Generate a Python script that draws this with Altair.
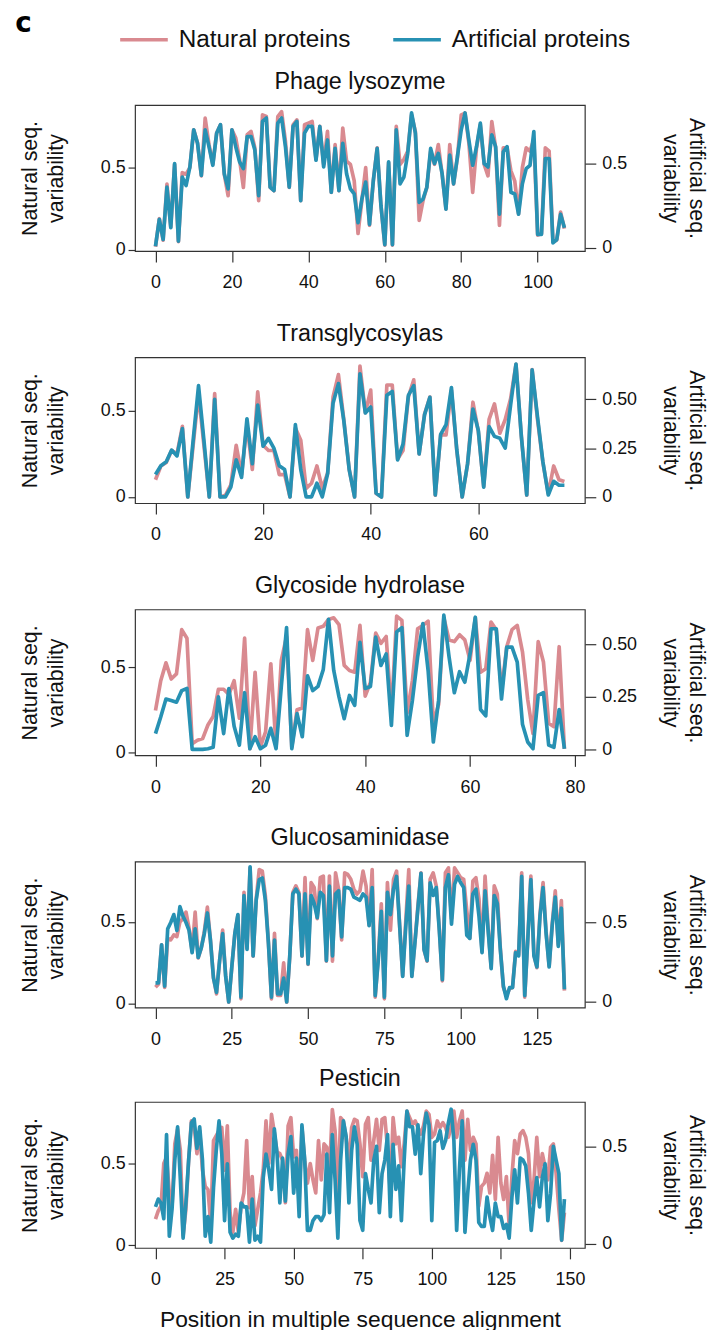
import altair as alt
import pandas as pd

FONT = "Liberation Sans"
PINK = "#D98A90"
BLUE = "#2791B3"
SERIES = ["Natural proteins", "Artificial proteins"]

titles = ["Phage lysozyme", "Transglycosylas", "Glycoside hydrolase",
          "Glucosaminidase", "Pesticin"]

nat1 = [0.02,0.19,0.06,0.40,0.14,0.52,0.05,0.47,0.46,0.50,
        0.73,0.65,0.45,0.80,0.64,0.52,0.71,0.76,0.46,0.33,
        0.73,0.68,0.55,0.38,0.70,0.72,0.62,0.30,0.82,0.81,
        0.38,0.36,0.81,0.84,0.66,0.38,0.76,0.79,0.30,0.76,
        0.77,0.78,0.55,0.75,0.52,0.72,0.35,0.64,0.36,0.74,
        0.54,0.52,0.42,0.10,0.30,0.50,0.15,0.42,0.62,0.27,
        0.03,0.53,0.03,0.75,0.52,0.55,0.60,0.82,0.72,0.18,
        0.30,0.38,0.60,0.52,0.64,0.46,0.25,0.64,0.40,0.56,
        0.82,0.83,0.65,0.35,0.62,0.76,0.52,0.45,0.78,0.62,
        0.15,0.62,0.62,0.48,0.42,0.22,0.50,0.62,0.60,0.67,
        0.09,0.10,0.62,0.60,0.05,0.06,0.23,0.13]
art1 = [0.01,0.17,0.05,0.36,0.12,0.50,0.04,0.42,0.37,0.48,
        0.70,0.62,0.43,0.70,0.60,0.49,0.68,0.73,0.44,0.35,
        0.70,0.60,0.51,0.47,0.66,0.66,0.58,0.31,0.75,0.77,
        0.36,0.34,0.74,0.77,0.60,0.36,0.72,0.75,0.28,0.68,
        0.72,0.72,0.52,0.72,0.48,0.64,0.33,0.59,0.34,0.62,
        0.44,0.35,0.32,0.15,0.29,0.39,0.14,0.40,0.59,0.25,
        0.02,0.51,0.02,0.70,0.38,0.42,0.56,0.80,0.68,0.27,
        0.29,0.36,0.59,0.50,0.56,0.44,0.23,0.55,0.38,0.54,
        0.70,0.80,0.64,0.49,0.60,0.74,0.50,0.48,0.67,0.60,
        0.20,0.57,0.60,0.33,0.32,0.20,0.38,0.47,0.49,0.69,
        0.08,0.08,0.53,0.53,0.03,0.05,0.20,0.12]

nat2 = [0.10,0.18,0.20,0.27,0.25,0.41,0.00,0.30,0.60,0.30,
        0.00,0.60,0.00,0.01,0.07,0.30,0.13,0.42,0.16,0.61,
        0.30,0.27,0.27,0.13,0.13,0.00,0.40,0.33,0.05,0.08,
        0.18,0.05,0.14,0.58,0.71,0.45,0.16,0.00,0.76,0.49,
        0.62,0.02,0.00,0.65,0.65,0.22,0.27,0.58,0.68,0.25,
        0.48,0.58,0.01,0.36,0.36,0.62,0.27,0.00,0.19,0.55,
        0.38,0.06,0.45,0.54,0.37,0.45,0.57,0.77,0.35,0.01,
        0.74,0.45,0.20,0.02,0.18,0.10,0.09]
art2 = [0.115,0.16,0.18,0.24,0.21,0.35,0.00,0.29,0.57,0.29,
        0.00,0.50,0.00,0.00,0.05,0.19,0.10,0.40,0.17,0.47,
        0.26,0.30,0.25,0.16,0.14,0.00,0.37,0.14,0.00,0.00,
        0.07,0.00,0.12,0.48,0.58,0.39,0.14,0.00,0.63,0.43,
        0.46,0.02,0.00,0.52,0.54,0.19,0.27,0.52,0.57,0.22,
        0.42,0.51,0.01,0.32,0.37,0.56,0.24,0.00,0.17,0.45,
        0.34,0.05,0.36,0.31,0.30,0.25,0.47,0.68,0.31,0.01,
        0.65,0.41,0.18,0.01,0.08,0.06,0.06]

nat3 = [0.245,0.42,0.525,0.43,0.46,0.72,0.67,0.05,0.07,0.08,
        0.16,0.21,0.37,0.37,0.34,0.42,0.20,0.67,0.02,0.47,
        0.03,0.12,0.52,0.03,0.54,0.68,0.03,0.25,0.26,0.72,
        0.54,0.73,0.74,0.78,0.79,0.75,0.51,0.48,0.47,0.745,
        0.33,0.41,0.70,0.64,0.68,0.23,0.80,0.775,0.23,0.42,
        0.725,0.745,0.77,0.17,0.28,0.79,0.66,0.65,0.69,0.66,
        0.54,0.79,0.47,0.49,0.765,0.72,0.36,0.62,0.72,0.745,
        0.59,0.31,0.11,0.65,0.53,0.17,0.15,0.62,0.02]
art3 = [0.075,0.154,0.24,0.233,0.225,0.28,0.29,0.00,0.00,0.00,
        0.003,0.01,0.25,0.075,0.29,0.11,0.02,0.27,0.003,0.06,
        0.003,0.02,0.10,0.003,0.30,0.58,0.003,0.17,0.06,0.35,
        0.28,0.30,0.38,0.62,0.376,0.25,0.146,0.257,0.21,0.51,
        0.29,0.30,0.535,0.40,0.455,0.114,0.56,0.58,0.067,0.233,
        0.44,0.60,0.376,0.035,0.233,0.64,0.44,0.27,0.37,0.32,
        0.455,0.63,0.19,0.16,0.575,0.575,0.24,0.487,0.487,0.416,
        0.12,0.035,0.003,0.257,0.27,0.02,0.01,0.19,0.003]

nat4 = [0.10,0.12,0.36,0.10,0.40,0.39,0.42,0.41,0.50,0.52,
        0.56,0.46,0.32,0.56,0.28,0.34,0.44,0.59,0.39,0.16,
        0.06,0.26,0.45,0.17,0.01,0.22,0.43,0.54,0.03,0.68,
        0.34,0.83,0.29,0.64,0.82,0.81,0.66,0.38,0.03,0.43,
        0.05,0.05,0.25,0.01,0.29,0.68,0.72,0.68,0.29,0.77,
        0.24,0.74,0.71,0.52,0.77,0.78,0.26,0.78,0.26,0.80,
        0.70,0.39,0.80,0.79,0.76,0.70,0.67,0.69,0.81,0.72,
        0.48,0.82,0.04,0.28,0.61,0.03,0.74,0.45,0.76,0.81,
        0.48,0.17,0.50,0.82,0.17,0.37,0.60,0.80,0.33,0.26,
        0.76,0.80,0.72,0.46,0.14,0.80,0.83,0.52,0.83,0.80,
        0.77,0.76,0.57,0.40,0.75,0.77,0.64,0.32,0.78,0.46,
        0.22,0.72,0.67,0.34,0.10,0.05,0.09,0.10,0.32,0.30,
        0.80,0.04,0.40,0.78,0.30,0.22,0.55,0.74,0.44,0.23,
        0.49,0.69,0.36,0.63,0.08]
art4 = [0.12,0.12,0.36,0.10,0.46,0.50,0.55,0.45,0.60,0.54,
        0.50,0.45,0.31,0.46,0.28,0.34,0.43,0.56,0.39,0.15,
        0.06,0.26,0.43,0.16,0.00,0.22,0.43,0.55,0.03,0.67,
        0.33,0.85,0.29,0.64,0.77,0.78,0.64,0.37,0.03,0.39,
        0.05,0.05,0.15,0.00,0.29,0.68,0.71,0.68,0.29,0.68,
        0.24,0.67,0.62,0.53,0.69,0.67,0.26,0.73,0.29,0.68,
        0.70,0.41,0.72,0.72,0.71,0.66,0.65,0.64,0.68,0.66,
        0.48,0.72,0.04,0.26,0.57,0.03,0.69,0.55,0.71,0.79,
        0.48,0.16,0.47,0.73,0.16,0.37,0.59,0.81,0.33,0.26,
        0.75,0.67,0.72,0.45,0.14,0.72,0.80,0.49,0.74,0.79,
        0.75,0.72,0.42,0.40,0.68,0.71,0.54,0.31,0.70,0.45,
        0.21,0.67,0.62,0.33,0.10,0.02,0.09,0.09,0.31,0.29,
        0.79,0.04,0.39,0.77,0.29,0.22,0.54,0.72,0.43,0.22,
        0.48,0.66,0.35,0.59,0.08]

nat5 = [0.16,0.21,0.24,0.50,0.54,0.32,0.24,0.62,0.71,0.58,
        0.06,0.22,0.52,0.76,0.73,0.56,0.70,0.46,0.36,0.34,
        0.13,0.64,0.67,0.70,0.72,0.46,0.73,0.20,0.08,0.22,
        0.08,0.24,0.32,0.64,0.23,0.42,0.12,0.22,0.32,0.46,
        0.76,0.50,0.80,0.69,0.57,0.56,0.52,0.26,0.73,0.78,
        0.54,0.58,0.28,0.72,0.52,0.38,0.50,0.40,0.32,0.64,
        0.40,0.62,0.60,0.46,0.83,0.70,0.30,0.78,0.76,0.66,
        0.50,0.72,0.77,0.76,0.62,0.42,0.74,0.78,0.52,0.64,
        0.77,0.58,0.77,0.78,0.59,0.32,0.78,0.62,0.66,0.48,
        0.62,0.82,0.78,0.74,0.76,0.72,0.68,0.73,0.82,0.80,
        0.66,0.68,0.76,0.72,0.75,0.72,0.66,0.72,0.82,0.66,
        0.76,0.82,0.52,0.77,0.58,0.66,0.62,0.24,0.36,0.38,
        0.44,0.32,0.55,0.28,0.66,0.38,0.28,0.42,0.12,0.42,
        0.64,0.56,0.68,0.70,0.66,0.56,0.26,0.40,0.66,0.42,
        0.56,0.48,0.40,0.60,0.62,0.44,0.22,0.03,0.20]
art5 = [0.19,0.23,0.21,0.13,0.56,0.04,0.18,0.43,0.60,0.33,
        0.03,0.21,0.43,0.62,0.64,0.49,0.60,0.43,0.04,0.14,
        0.01,0.29,0.48,0.63,0.46,0.12,0.41,0.06,0.03,0.05,
        0.04,0.21,0.19,0.19,0.01,0.23,0.02,0.04,0.01,0.34,
        0.46,0.38,0.28,0.59,0.46,0.21,0.44,0.22,0.46,0.55,
        0.26,0.44,0.14,0.61,0.43,0.07,0.07,0.12,0.14,0.14,
        0.12,0.15,0.46,0.16,0.56,0.33,0.03,0.43,0.63,0.55,
        0.21,0.48,0.60,0.51,0.12,0.07,0.36,0.28,0.21,0.43,
        0.50,0.16,0.36,0.43,0.56,0.14,0.51,0.28,0.40,0.12,
        0.43,0.68,0.60,0.60,0.46,0.61,0.36,0.56,0.67,0.61,
        0.12,0.52,0.53,0.58,0.49,0.53,0.62,0.69,0.53,0.07,
        0.38,0.63,0.06,0.26,0.43,0.51,0.43,0.11,0.09,0.09,
        0.24,0.14,0.07,0.21,0.14,0.14,0.08,0.10,0.03,0.24,
        0.38,0.21,0.44,0.43,0.40,0.26,0.07,0.22,0.34,0.19,
        0.34,0.41,0.12,0.26,0.50,0.43,0.36,0.02,0.23]

natural = [nat1, nat2, nat3, nat4, nat5]
artificial = [art1, art2, art3, art4, art5]

x_ticks = [[0, 20, 40, 60, 80, 100], [0, 20, 40, 60], [0, 20, 40, 60, 80],
           [0, 25, 50, 75, 100, 125], [0, 25, 50, 75, 100, 125, 150]]
left_ticks = [0, 0.5]
right_ticks = [[0, 0.5], [0, 0.25, 0.5], [0, 0.25, 0.5], [0, 0.5], [0, 0.5]]
right_fmt = [".1f", ".2f", ".2f", ".1f", ".1f"]
right_tpad = [32, 22, 22, 32, 32]
left_dom = [[-0.006, 0.88], [-0.036, 0.811], [-0.019, 0.839], [-0.024, 0.868], [-0.016, 0.876]]
right_dom = [[-0.018, 0.847], [-0.032, 0.715], [-0.029, 0.667], [-0.036, 0.883], [-0.02, 0.727]]

W, H = 453, 147
color = alt.Color("series:N",
                  scale=alt.Scale(domain=SERIES, range=[PINK, BLUE]),
                  legend=alt.Legend(title=None, orient="none", direction="horizontal",
                                    legendX=-17, legendY=-92, symbolType="stroke",
                                    symbolSize=2300, symbolStrokeWidth=3.5,
                                    labelFontSize=24.5, labelFont=FONT, labelColor="#111",
                                    labelLimit=400, labelOffset=9, columnPadding=36))


def panel(k, last):
    n = len(natural[k])
    dn = pd.DataFrame({"pos": list(range(n)), "v": natural[k], "series": SERIES[0]})
    da = pd.DataFrame({"pos": list(range(n)), "v": artificial[k], "series": SERIES[1]})
    xaxis = alt.Axis(values=x_ticks[k], title=("Position in multiple sequence alignment" if last else None),
                     titleFontSize=23, titlePadding=20, tickSize=11, labelPadding=12)
    x = alt.X("pos:Q", scale=alt.Scale(domain=[-0.05 * (n - 1), 1.05 * (n - 1)], nice=False, zero=False),
              axis=xaxis)
    ln = alt.Chart(dn).mark_line(strokeWidth=3.7, strokeJoin="round").encode(
        x=x,
        y=alt.Y("v:Q", scale=alt.Scale(domain=left_dom[k], nice=False, zero=False),
                axis=alt.Axis(values=left_ticks, orient="left", title=["Natural seq.", "variability"],
                              tickSize=7, labelPadding=3, titlePadding=33,
                              labelExpr="datum.value == 0 ? '0' : format(datum.value, '.1f')")),
        color=color)
    la = alt.Chart(da).mark_line(strokeWidth=3.7, strokeJoin="round").encode(
        x=x,
        y=alt.Y("v:Q", scale=alt.Scale(domain=right_dom[k], nice=False, zero=False),
                axis=alt.Axis(values=right_ticks[k], orient="right", title=["Artificial seq.", "variability"],
                              tickSize=11, labelPadding=6, titlePadding=right_tpad[k],
                              labelExpr="datum.value == 0 ? '0' : format(datum.value, '%s')" % right_fmt[k])),
        color=color)
    return alt.layer(ln, la).resolve_scale(y="independent").properties(
        width=W, height=H,
        title=alt.TitleParams(titles[k], fontSize=23.5, fontWeight="normal", font=FONT,
                              color="#111", offset=12))


panels = [panel(k, k == 4) for k in range(5)]
upper = alt.vconcat(*panels[:4], spacing=28).resolve_scale(x="independent", y="independent")
chart = alt.vconcat(upper, panels[4], spacing=16).resolve_scale(
    x="independent", y="independent", color="shared"
).properties(
    title=alt.TitleParams("c", anchor="start", frame="bounds", fontSize=28, fontWeight=900,
                          font="DejaVu Sans", color="#000", offset=-24, dx=-4),
    padding={"left": 15, "top": 5, "right": 0, "bottom": 10},
    background="white",
).configure_view(stroke="#333", strokeWidth=1.2).configure_axis(
    labelFont=FONT, labelFontSize=18, labelColor="#111", titleFont=FONT, titleFontSize=21.5,
    titleFontWeight="normal", titleColor="#111", tickColor="#333", tickWidth=1.2,
    domain=False, grid=False, titleLineHeight=26,
)

chart.save("out.html", embed_options={"renderer": "svg", "actions": False})
